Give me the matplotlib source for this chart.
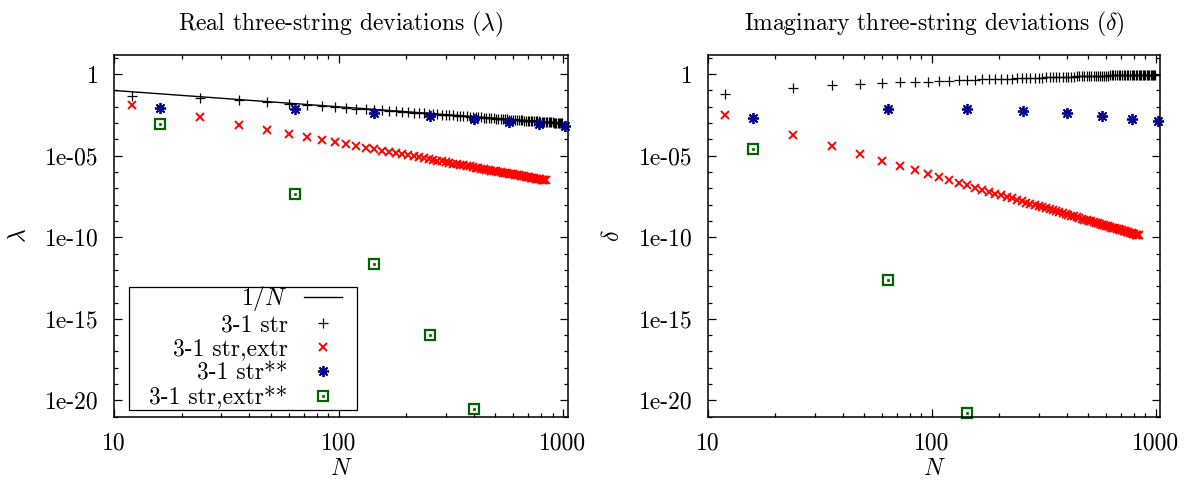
import numpy as np
import matplotlib
matplotlib.use("Agg")
import matplotlib.pyplot as plt
from matplotlib.ticker import FixedLocator, NullFormatter
from matplotlib.patches import Rectangle

plt.rcParams['font.family'] = 'cmr10'
plt.rcParams['mathtext.fontset'] = 'cm'
plt.rcParams['axes.unicode_minus'] = False
plt.rcParams['axes.formatter.use_mathtext'] = True

# ---- data (y values stored as log10) ----
N_str = [12, 24, 36, 48, 60, 72, 84, 96, 108, 120, 132, 144, 156, 168, 180, 192,
         204, 216, 228, 240, 252, 264, 276, 288, 300, 312, 324, 336, 348, 360, 372,
         384, 396, 408, 420, 432, 444, 456, 468, 480, 492, 504, 516, 528, 540, 552,
         564, 576, 588, 600, 612, 624, 636, 648, 660, 672, 684, 696, 708, 720, 732,
         744, 756, 768, 780, 792, 804, 816, 828, 840, 852, 864, 876, 888, 900, 912,
         924, 936, 948, 960, 972, 984, 996]
N_extr = N_str[:70]
N_sq = [16, 64, 144, 256, 400, 576, 784, 1024]
N_sq_extr_re = [16, 64, 144, 256, 400]
N_sq_extr_im = [16, 64, 144]

N_line = [10, 1000]
inv_N = [0.1, 0.001]

re_str = [-1.33, -1.45, -1.60, -1.72, -1.81, -1.89, -1.95, -2.01, -2.06, -2.11,
          -2.15, -2.19, -2.22, -2.25, -2.28, -2.31, -2.34, -2.36, -2.38, -2.40,
          -2.42, -2.44, -2.46, -2.48, -2.50, -2.51, -2.53, -2.55, -2.56, -2.58,
          -2.59, -2.60, -2.62, -2.63, -2.64, -2.65, -2.67, -2.68, -2.69, -2.70,
          -2.71, -2.72, -2.73, -2.74, -2.75, -2.76, -2.77, -2.78, -2.79, -2.79,
          -2.80, -2.81, -2.82, -2.83, -2.83, -2.84, -2.85, -2.85, -2.86, -2.87,
          -2.87, -2.88, -2.89, -2.89, -2.90, -2.91, -2.91, -2.92, -2.93, -2.93,
          -2.94, -2.94, -2.95, -2.95, -2.96, -2.97, -2.97, -2.98, -2.98, -2.99,
          -2.99, -3.00, -3.00]
im_str = [-1.22, -0.82, -0.67, -0.59, -0.55, -0.50, -0.48, -0.46, -0.43, -0.40,
          -0.37, -0.35, -0.33, -0.32, -0.31, -0.30, -0.29, -0.28, -0.27, -0.26,
          -0.25, -0.24, -0.235, -0.23, -0.22, -0.21, -0.20, -0.20, -0.19, -0.18,
          -0.18, -0.17, -0.16, -0.16, -0.15, -0.15, -0.14, -0.14, -0.13, -0.13,
          -0.12, -0.12, -0.12, -0.11, -0.11, -0.10, -0.10, -0.10, -0.09, -0.09,
          -0.09, -0.08, -0.08, -0.08, -0.08, -0.07, -0.07, -0.07, -0.07, -0.07,
          -0.06, -0.06, -0.06, -0.06, -0.06, -0.05, -0.05, -0.05, -0.05, -0.05,
          -0.05, -0.05, -0.04, -0.04, -0.04, -0.04, -0.04, -0.04, -0.03, -0.03,
          -0.03, -0.03, -0.03]
re_extr = [-1.90, -2.65, -3.09, -3.41, -3.65, -3.85, -4.01, -4.16, -4.29, -4.40,
           -4.50, -4.60, -4.69, -4.77, -4.84, -4.91, -4.98, -5.04, -5.10, -5.15,
           -5.21, -5.26, -5.31, -5.35, -5.40, -5.44, -5.48, -5.52, -5.56, -5.59,
           -5.63, -5.66, -5.70, -5.73, -5.76, -5.79, -5.82, -5.85, -5.88, -5.91,
           -5.93, -5.96, -5.98, -6.01, -6.03, -6.06, -6.08, -6.10, -6.13, -6.15,
           -6.17, -6.19, -6.21, -6.23, -6.25, -6.27, -6.29, -6.31, -6.33, -6.35,
           -6.36, -6.38, -6.40, -6.42, -6.43, -6.45, -6.47, -6.48, -6.50, -6.51]
im_extr = [-2.50, -3.70, -4.41, -4.91, -5.30, -5.61, -5.88, -6.11, -6.32, -6.50,
           -6.66, -6.82, -6.96, -7.08, -7.20, -7.32, -7.42, -7.52, -7.62, -7.70,
           -7.79, -7.87, -7.95, -8.02, -8.09, -8.16, -8.22, -8.29, -8.35, -8.41,
           -8.46, -8.52, -8.58, -8.62, -8.68, -8.72, -8.77, -8.82, -8.86, -8.91,
           -8.95, -8.99, -9.03, -9.07, -9.11, -9.15, -9.19, -9.22, -9.26, -9.30,
           -9.33, -9.36, -9.40, -9.43, -9.46, -9.49, -9.52, -9.55, -9.58, -9.61,
           -9.64, -9.67, -9.70, -9.72, -9.75, -9.78, -9.80, -9.83, -9.86, -9.88]
re_sq = [-2.07, -2.15, -2.37, -2.58, -2.76, -2.91, -3.05, -3.17]
im_sq = [-2.66, -2.13, -2.15, -2.25, -2.39, -2.56, -2.72, -2.88]
re_sq_extr = [-3.03, -7.34, -11.61, -15.99, -20.50]
im_sq_extr = [-4.58, -12.64, -20.77]

labels = ['$1/N$', '3-1 str', '3-1 str,extr', '3-1 str**', '3-1 str,extr**']
ytick_vals = [1, 1e-5, 1e-10, 1e-15, 1e-20]
ytick_labels = ['1', '1e-05', '1e-10', '1e-15', '1e-20']
xtick_vals = [10, 100, 1000]
xtick_labels = ['10', '100', '1000']

RED = '#ff0000'
BLUE = '#00008b'
GREEN = '#006400'
FS = 17

fig = plt.figure(figsize=(11.94, 4.88), dpi=100)
ax1 = fig.add_axes([0.0957, 0.1461, 0.3797, 0.7412])
ax2 = fig.add_axes([0.5927, 0.1461, 0.3792, 0.7412])

star = (8, 2, 0)


def draw(ax, y_str, y_extr, y_sq, n_sq_extr, y_sq_extr, with_line):
    h = []
    if with_line:
        h.append(ax.plot(N_line, inv_N, color='black', lw=1.0)[0])
    h.append(ax.plot(N_str, 10.0 ** np.array(y_str), ls='none', marker='+',
                     color='black', ms=7.5, mew=0.9)[0])
    h.append(ax.plot(N_extr, 10.0 ** np.array(y_extr), ls='none', marker='x',
                     color=RED, ms=6, mew=1.4)[0])
    h.append(ax.plot(N_sq, 10.0 ** np.array(y_sq), ls='none', marker=star,
                     color=BLUE, ms=8, mew=1.3, clip_on=False)[0])
    sq1 = ax.plot(n_sq_extr, 10.0 ** np.array(y_sq_extr), ls='none', marker='s',
                  mfc='none', mec=GREEN, ms=6.5, mew=1.6, clip_on=False)[0]
    sq2 = ax.plot(n_sq_extr, 10.0 ** np.array(y_sq_extr), ls='none', marker='s',
                  mfc=GREEN, mec=GREEN, ms=1.6, mew=0.5, clip_on=False)[0]
    h.append((sq1, sq2))
    return h


def style(ax):
    ax.set_xscale('log')
    ax.set_yscale('log')
    ax.set_xlim(10, 1050)
    ax.set_ylim(1e-21, 15)
    ax.xaxis.set_major_locator(FixedLocator(xtick_vals))
    ax.set_xticklabels(xtick_labels)
    ax.xaxis.set_minor_locator(FixedLocator(
        [m * 10 ** e for e in (1, 2) for m in range(2, 10)]))
    ax.xaxis.set_minor_formatter(NullFormatter())
    ax.yaxis.set_major_locator(FixedLocator(ytick_vals))
    ax.set_yticklabels(ytick_labels)
    ax.yaxis.set_minor_locator(FixedLocator(
        [10.0 ** e for e in range(-21, 2) if e % 5 != 0]))
    ax.yaxis.set_minor_formatter(NullFormatter())
    ax.tick_params(which='both', direction='in', top=True, right=True,
                   labelsize=FS, width=0.9)
    ax.tick_params(which='major', length=5.5, pad=11)
    ax.tick_params(which='minor', length=3)
    for s in ax.spines.values():
        s.set_linewidth(1.1)
    ax.set_xlabel('$N$', fontsize=FS)
    ax.xaxis.set_label_coords(0.5, -0.115)


h = draw(ax1, re_str, re_extr, re_sq, N_sq_extr_re, re_sq_extr, True)
draw(ax2, im_str, im_extr, im_sq, N_sq_extr_im, im_sq_extr, False)
style(ax1)
style(ax2)

ax1.set_title('Real three-string deviations ($\\lambda$)', fontsize=FS, pad=18)
ax2.set_title('Imaginary three-string deviations ($\\delta$)', fontsize=FS, pad=18)
ax1.set_ylabel('$\\lambda$', fontsize=FS)
ax2.set_ylabel('$\\delta$', fontsize=FS)
ax1.yaxis.set_label_coords(-0.185, 0.5)
ax2.yaxis.set_label_coords(-0.185, 0.5)

# legend box drawn by hand, legend itself without frame
ax1.add_patch(Rectangle((0.0331, 0.0185), 0.5029, 0.3393, transform=ax1.transAxes,
                        facecolor='white', edgecolor='black', lw=0.9, zorder=4))
leg = ax1.legend(h, labels, loc='lower right', bbox_to_anchor=(0.502, 0.021),
                 borderaxespad=0, borderpad=0, markerfirst=False, fontsize=FS,
                 frameon=False, handlelength=1.6, handletextpad=0.7,
                 labelspacing=0.07)
leg.set_zorder(5)

fig.savefig('out.png', dpi=100)
